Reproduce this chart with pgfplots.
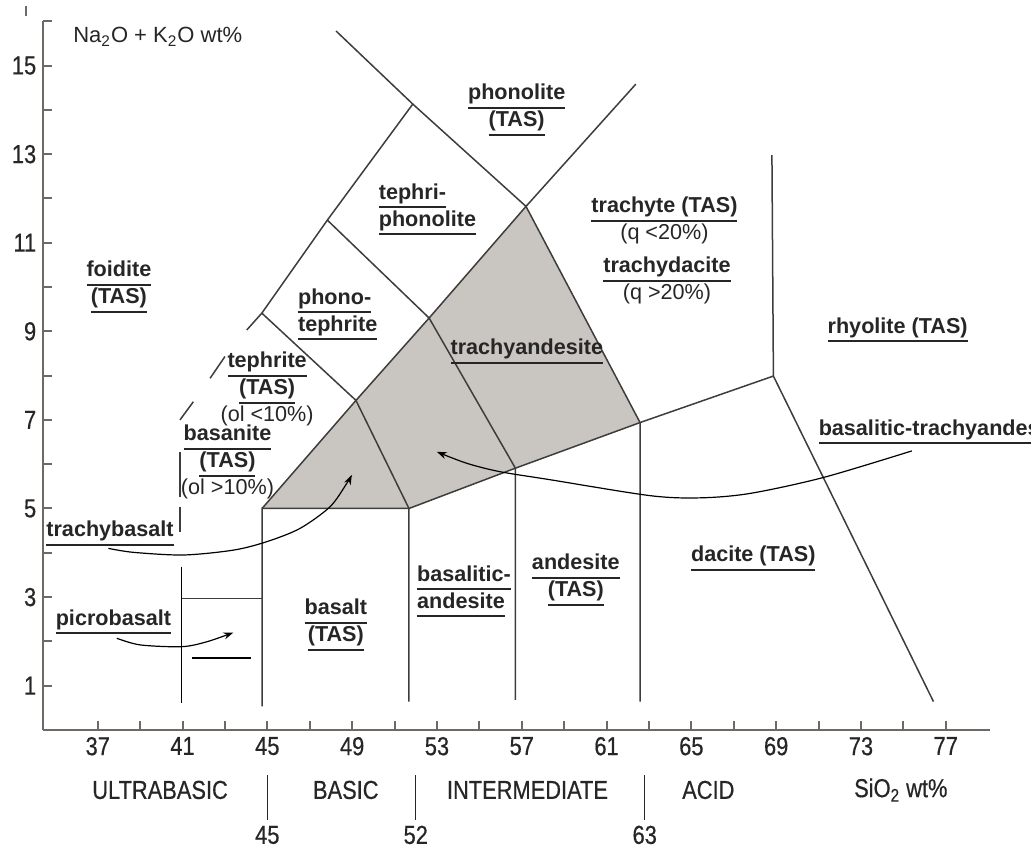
\documentclass[border=0pt]{standalone}
\usepackage{fontspec}
\setmainfont{Liberation Sans}
\newfontfamily\condfont[FakeStretch=0.84, FakeBold=0.5]{Liberation Sans}
\usepackage{pgfplots}
\pgfplotsset{compat=1.18}
\usetikzlibrary{arrows.meta}
\definecolor{shadec}{HTML}{C9C5C1}
\definecolor{linec}{HTML}{3F3D3B}
\definecolor{axisc}{HTML}{6E6964}
\definecolor{inkc}{HTML}{262626}
% underlined rock name
\newcommand\ul[1]{\vtop{\hbox{\vphantom{(}#1}\kern1.4pt\hrule height 1pt}}

\begin{document}
\begin{tikzpicture}[
  names/.style={font=\bfseries\fontsize{10.8}{13.5}\selectfont, text=inkc, align=center, inner sep=0pt},
  bline/.style={linec, line width=0.75pt},
  arr/.style={black, line width=0.6pt, smooth, -{Stealth[length=5pt,width=3.5pt]}},
  cond/.style={font=\condfont\fontsize{13}{15}\selectfont, text=inkc, inner sep=0pt},
]
\begin{axis}[
  scale only axis, width=473.35pt, height=354.3pt,
  xmin=34.43, xmax=79.09, ymin=0, ymax=16,
  axis x line=bottom, axis y line=left,
  axis line style={-, axisc, line width=1.2pt},
  xtick={37,41,...,77}, minor xtick={39,43,...,75},
  ytick={1,3,...,15}, minor ytick={2,4,...,16},
  tick align=inside, major tick length=4.5pt, minor tick length=4.5pt,
  every tick/.style={axisc, line width=1pt},
  /pgf/number format/assume math mode=true,
  ticklabel style={font=\condfont\fontsize{13}{15}\selectfont, text=inkc},
  clip=false,
]
% shaded trachy- field
\addplot[fill=shadec, draw=none] coordinates {
  (44.75,5.0) (49.18,7.44) (52.63,9.30) (57.20,11.82) (62.58,6.94) (56.70,5.91) (51.68,5.0)} -- cycle;

% field boundaries
\addplot[bline] coordinates {(44.75,5.0) (49.18,7.44) (52.63,9.30) (57.20,11.82) (62.38,14.58)};
\addplot[bline] coordinates {(48.24,15.78) (51.86,14.13) (57.20,11.82) (62.58,6.94) (62.58,0.64)};
\addplot[bline] coordinates {(51.86,14.13) (47.83,11.51) (44.74,9.41) (44.03,9.03)};
\addplot[bline] coordinates {(47.83,11.51) (52.63,9.30) (56.70,5.91) (56.70,0.68)};
\addplot[bline] coordinates {(44.74,9.41) (49.18,7.44) (51.68,5.0) (51.68,0.64)};
\addplot[bline] coordinates {(44.75,0.53) (44.75,5.0) (51.68,5.0) (56.70,5.91) (62.58,6.94) (68.87,7.99) (76.42,0.64)};
\addplot[bline] coordinates {(68.80,12.98) (68.87,7.99)};
% broken foidite edge
\addplot[bline] coordinates {(43.00,8.43) (42.30,7.94)};
\addplot[bline] coordinates {(41.51,7.41) (40.88,7.00)};
\addplot[bline] coordinates {(40.88,6.28) (40.88,5.27)};
\addplot[bline] coordinates {(40.88,5.04) (40.88,4.48)};
% picrobasalt
\addplot[black, line width=0.8pt] coordinates {(40.96,3.69) (40.96,0.60)};
\addplot[bline] coordinates {(40.96,2.97) (44.75,2.97)};
\addplot[black, line width=0.8pt] coordinates {(41.43,1.63) (44.23,1.63)};
\addplot[axisc, line width=0.8pt] coordinates {(33.62,16.35) (33.62,16.12)};

% arrows
\addplot[arr] coordinates {(37.50,4.10) (38.68,4.01) (41.04,3.95) (43.40,4.06) (44.97,4.25) (46.54,4.55) (47.96,5.04) (48.75,5.57) (48.98,5.76)};
\addplot[arr] coordinates {(37.90,2.07) (39.00,1.92) (40.96,1.88) (42.14,1.99) (43.40,2.20)};
\addplot[arr] coordinates {(75.40,6.30) (71.23,5.70) (67.77,5.34) (65.41,5.24) (63.05,5.29) (58.33,5.65) (55.98,5.83) (54.41,6.02) (52.99,6.28)};

% names
\node[anchor=west, font=\fontsize{11}{13}\selectfont, text=inkc, inner sep=0pt] at (35.83,15.65) {Na\textsubscript{2}O + K\textsubscript{2}O wt\%};
\node[names] at (38.0,10.0) {\ul{foidite}\\\ul{(TAS)}};
\node[names] at (56.76,14.0) {\ul{phonolite}\\\ul{(TAS)}};
\node[names, align=left, anchor=west] at (50.24,11.75) {\ul{tephri-}\\\ul{phonolite}};
\node[names, align=left, anchor=west] at (46.43,9.38) {\ul{phono-}\\\ul{tephrite}};
\node[names] at (44.99,7.70) {\ul{tephrite}\\\ul{(TAS)}\\\mdseries (ol <10\%)};
\node[names] at (43.12,6.05) {\ul{basanite}\\\ul{(TAS)}\\\mdseries (ol >10\%)};
\node[names] at (37.58,4.44) {\ul{trachybasalt}};
\node[names] at (37.74,2.44) {\ul{picrobasalt}};
\node[names] at (48.23,2.38) {\ul{basalt}\\\ul{(TAS)}};
\node[names, align=left, anchor=west] at (52.05,3.13) {\ul{basalitic-}\\\ul{andesite}};
\node[names] at (59.55,3.38) {\ul{andesite}\\\ul{(TAS)}};
\node[names] at (67.92,3.87) {\ul{dacite (TAS)}};
\node[names] at (63.73,11.50) {\ul{trachyte (TAS)}\\\mdseries (q <20\%)};
\node[names] at (63.85,10.15) {\ul{trachydacite}\\\mdseries (q >20\%)};
\node[names] at (57.24,8.54) {\ul{trachyandesite}};
\node[names] at (74.73,9.03) {\ul{rhyolite (TAS)}};
\node[names, anchor=west, overlay] at (70.99,6.73) {\ul{basalitic-trachyandesite}};

% silica classes
\draw[inkc, line width=0.7pt] (45,-1.02) -- (45,-2.03);
\draw[inkc, line width=0.7pt] (52,-1.02) -- (52,-2.03);
\draw[inkc, line width=0.7pt] (62.8,-1.02) -- (62.8,-2.03);
\node[cond] at (39.94,-1.355) {ULTRABASIC};
\node[cond] at (48.70,-1.355) {BASIC};
\node[cond] at (57.27,-1.355) {INTERMEDIATE};
\node[cond] at (65.80,-1.355) {ACID};
\node[cond] at (74.88,-1.355) {SiO\textsubscript{2} wt\%};
\node[cond] at (45,-2.37) {45};
\node[cond] at (52,-2.37) {52};
\node[cond] at (62.8,-2.37) {63};

\coordinate (bbsw) at (32.39,-2.687);
\coordinate (bbne) at (81.02,16.48);
\end{axis}
\pgfresetboundingbox
\path[use as bounding box] (bbsw) rectangle (bbne);
\end{tikzpicture}
\end{document}
